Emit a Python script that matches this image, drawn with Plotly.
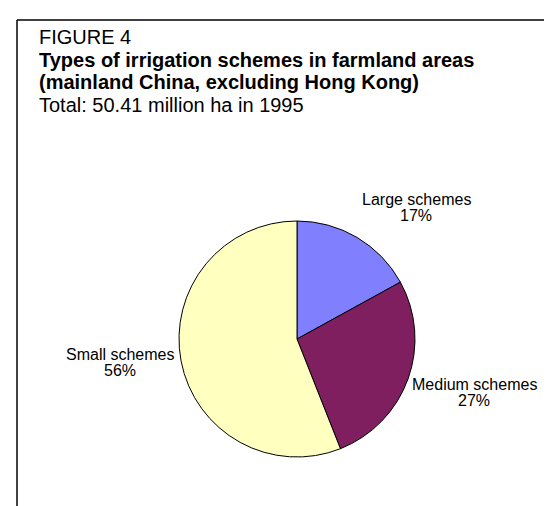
import plotly.graph_objects as go

W, H = 552, 506

categories = ["Large schemes", "Medium schemes", "Small schemes"]
shares = [17, 27, 56]
colors = ["#8080FF", "#7F1F5F", "#FFFFC0"]

title_lines = [
    ("FIGURE 4", False),
    ("Types of irrigation schemes in farmland areas", True),
    ("(mainland China, excluding Hong Kong)", True),
    ("Total: 50.41 million ha in 1995", False),
]

# pie geometry (pixels)
cx, cy, r = 289, 331, 118

def px(x):
    return x / W

def py(y):
    return 1 - y / H

fig = go.Figure(go.Pie(
    labels=categories,
    values=shares,
    sort=False,
    direction="clockwise",
    rotation=0,
    marker=dict(colors=colors, line=dict(color="#000000", width=1)),
    textinfo="none",
    hoverinfo="label+percent",
    domain=dict(x=[px(cx - r), px(cx + r)], y=[py(cy + r), py(cy - r)]),
    showlegend=False,
))

FONT = "Liberation Sans, Arial, sans-serif"
annotations = []
title_y = [29, 52, 74, 97]
for (txt, bold), yy in zip(title_lines, title_y):
    annotations.append(dict(
        x=px(29), y=py(yy), xref="paper", yref="paper",
        xanchor="left", yanchor="middle", showarrow=False,
        text=f"<b>{txt}</b>" if bold else txt,
        font=dict(family=FONT, size=20, color="#000000"),
    ))

# data label anchors (pixel centre of the first label line)
label_pos = [(408, 191), (466, 376), (112, 346)]
for cat, val, (lx, ly) in zip(categories, shares, label_pos):
    for k, line in enumerate([cat, f"{val}%"]):
        annotations.append(dict(
            x=px(lx), y=py(ly + 16 * k), xref="paper", yref="paper",
            xanchor="center", yanchor="middle", showarrow=False,
            text=line,
            font=dict(family=FONT, size=16, color="#000000"),
        ))

fig.update_layout(
    width=W, height=H,
    margin=dict(l=0, r=0, t=0, b=0),
    paper_bgcolor="#FFFFFF",
    plot_bgcolor="#FFFFFF",
    annotations=annotations,
    shapes=[
        dict(type="line", xref="paper", yref="paper", x0=px(9), x1=1.01, y0=py(12), y1=py(12),
             line=dict(color="#000000", width=1.5)),
        dict(type="line", xref="paper", yref="paper", x0=px(9), x1=px(9), y0=py(12), y1=-0.01,
             line=dict(color="#000000", width=1.5)),
    ],
)

fig.write_html("out.html")
